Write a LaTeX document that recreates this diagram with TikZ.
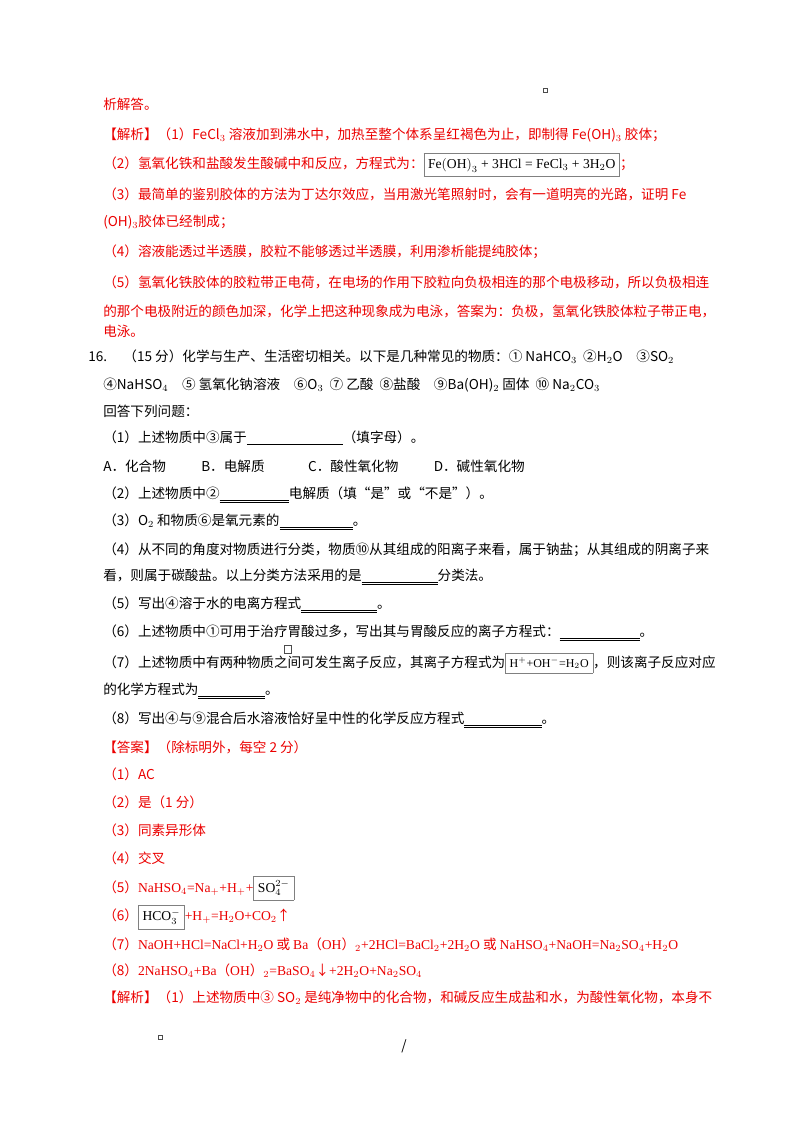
\documentclass[tikz,border=0pt]{standalone}
\usepackage{fontspec}
\setmainfont{Liberation Serif}
\newfontfamily\cjk{Noto Sans CJK SC}
\definecolor{ansred}{RGB}{235,0,0}
\newcommand{\blk}[1]{\underline{\hspace{#1}}}
\newcommand{\dblk}[1]{$\underline{\underline{\hspace{#1}}}$}
\begin{document}
\begin{tikzpicture}[x=0.75pt,y=-0.75pt,
  ln/.style={anchor=west,inner sep=0pt,font=\fontsize{10.2pt}{12pt}\cjk},
  rd/.style={ln,text=ansred},
  mk/.style={draw=black!70,line width=0.3pt,minimum width=3pt,minimum height=3pt,inner sep=0pt}]
\useasboundingbox (0,0) rectangle (800,1132);
\node[mk] (m1) at (545,90) {};
\node[rd] (l1) at (103,104) {析解答。};
\node[rd] (l2) at (103,135) {【解析】（1）FeCl$_3$ 溶液加到沸水中，加热至整个体系呈红褐色为止，即制得 Fe(OH)$_3$ 胶体；};
\node[rd] (l3) at (103,165) {（2）氢氧化铁和盐酸发生酸碱中和反应，方程式为：\textcolor{black}{\fcolorbox{gray}{white}{\rmfamily Fe$\left(\mathrm{OH}\right)_3$ + 3HCl = FeCl$_3$ + 3H$_2$O}}；};
\node[rd] (l4) at (103,194) {（3）最简单的鉴别胶体的方法为丁达尔效应，当用激光笔照射时，会有一道明亮的光路，证明 Fe};
\node[rd] (l5) at (103,222) {(OH)$_3$胶体已经制成；};
\node[rd] (l6) at (103,252) {（4）溶液能透过半透膜，胶粒不能够透过半透膜，利用渗析能提纯胶体；};
\node[rd] (l7) at (103,282) {（5）氢氧化铁胶体的胶粒带正电荷，在电场的作用下胶粒向负极相连的那个电极移动，所以负极相连};
\node[rd] (l8) at (103,311) {的那个电极附近的颜色加深，化学上把这种现象成为电泳，答案为：负极，氢氧化铁胶体粒子带正电，};
\node[rd] (l9) at (103,331) {电泳。};
\node[ln] (q0) at (88,357) {16.\hspace{1.2em}（15 分）化学与生产、生活密切相关。以下是几种常见的物质：①  NaHCO$_3$\ \ ②H$_2$O\quad ③SO$_2$};
\node[ln] (q1) at (103,385) {④NaHSO$_4$\quad ⑤ 氢氧化钠溶液\quad ⑥O$_3$\ \ ⑦ 乙酸\ \ ⑧盐酸\quad ⑨Ba(OH)$_2$ 固体\ \ ⑩ Na$_2$CO$_3$};
\node[ln] (q2) at (103,411) {回答下列问题：};
\node[ln] (q3) at (103,438) {（1）上述物质中③属于\blk{72pt}（填字母）。};
\node[ln] (q4) at (103,466) {A．化合物\hspace{2.6em}B．电解质\hspace{3.2em}C．酸性氧化物\hspace{2.6em}D．碱性氧化物};
\node[ln] (q5) at (103,495) {（2）上述物质中②\dblk{52pt}电解质（填“是”或“不是”）。};
\node[ln] (q6) at (103,522) {（3）O$_2$ 和物质⑥是氧元素的\dblk{55pt}。};
\node[ln] (q7) at (103,550) {（4）从不同的角度对物质进行分类，物质⑩从其组成的阳离子来看，属于钠盐；从其组成的阴离子来};
\node[ln] (q8) at (103,577) {看，则属于碳酸盐。以上分类方法采用的是\dblk{57pt}分类法。};
\node[ln] (q9) at (103,605) {（5）写出④溶于水的电离方程式\dblk{57pt}。};
\node[ln] (q10) at (103,633) {（6）上述物质中①可用于治疗胃酸过多，写出其与胃酸反应的离子方程式：\dblk{60pt}。};
\node[mk,minimum height=6pt,minimum width=5pt] (m2) at (288,649) {};
\node[ln] (q11) at (103,663) {（7）上述物质中有两种物质之间可发生离子反应，其离子方程式为\fcolorbox{gray}{white}{\rmfamily\small H$^+$+OH$^-$=H$_2$O}，则该离子反应对应};
\node[ln] (q12) at (103,691) {的化学方程式为\dblk{50pt}。};
\node[ln] (q13) at (103,720) {（8）写出④与⑨混合后水溶液恰好呈中性的化学反应方程式\dblk{58pt}。};
\node[rd] (a0) at (103,747) {【答案】（除标明外，每空 2 分）};
\node[rd] (a1) at (103,774) {（1）AC};
\node[rd] (a2) at (103,802) {（2）是（1 分）};
\node[rd] (a3) at (103,830) {（3）同素异形体};
\node[rd] (a4) at (103,858) {（4）交叉};
\node[rd] (a5) at (103,888) {（5）{\rmfamily NaHSO$_4$=Na$_+$+H$_+$+}\textcolor{black}{\fcolorbox{gray}{white}{\rmfamily SO$_4^{2-}$}}};
\node[rd] (a6) at (103,917) {（6）\textcolor{black}{\fcolorbox{gray}{white}{\rmfamily HCO$_3^-$}}{\rmfamily +H$_+$=H$_2$O+CO$_2$}↑};
\node[rd] (a7) at (103,945) {（7）{\rmfamily NaOH+HCl=NaCl+H$_2$O} 或 {\rmfamily Ba}（{\rmfamily OH}）$_2${\rmfamily+2HCl=BaCl$_2$+2H$_2$O} 或 {\rmfamily NaHSO$_4$+NaOH=Na$_2$SO$_4$+H$_2$O}};
\node[rd] (a8) at (103,971) {（8）{\rmfamily 2NaHSO$_4$+Ba}（{\rmfamily OH}）$_2${\rmfamily=BaSO$_4$}↓{\rmfamily+2H$_2$O+Na$_2$SO$_4$}};
\node[rd] (a9) at (103,998) {【解析】（1）上述物质中③ SO$_2$ 是纯净物中的化合物，和碱反应生成盐和水，为酸性氧化物，本身不};
\node[mk] (m3) at (160,1037) {};
\node[ln] (m4) at (401,1046) {/};
\end{tikzpicture}
\end{document}
